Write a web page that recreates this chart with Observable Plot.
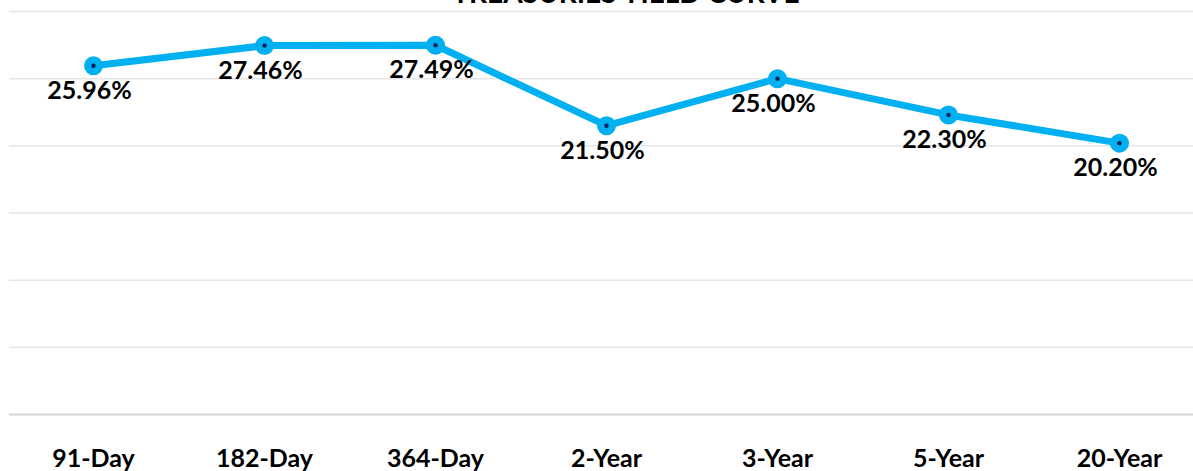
<!DOCTYPE html>
<html>
<head>
<meta charset="utf-8">
<script src="https://cdn.jsdelivr.net/npm/d3@7"></script>
<script src="https://cdn.jsdelivr.net/npm/@observablehq/plot@0.6"></script>
<style>
  html, body { margin: 0; padding: 0; background: #fff; overflow: hidden; }
  #wrap { position: relative; width: 1193px; height: 471px; overflow: hidden; }
  #title { position: absolute; top: -22px; left: 376px; width: 500px; text-align: center;
           font: 700 28px/28px Lato, sans-serif; color: #000; white-space: nowrap; }
  svg { font-family: Lato, sans-serif; }
</style>
</head>
<body>
<div id="wrap">
  <div id="title">TREASURIES YIELD CURVE</div>
  <div id="chart"></div>
</div>
<script>
const tenors = ["91-Day", "182-Day", "364-Day", "2-Year", "3-Year", "5-Year", "20-Year"];
const yields = [25.96, 27.46, 27.49, 21.50, 25.00, 22.30, 20.20];
const yTicks = [0, 5, 10, 15, 20, 25, 30];

const data = tenors.map((t, i) => ({tenor: t, value: yields[i], label: yields[i].toFixed(2) + "%"}));

const chart = Plot.plot({
  width: 1193,
  height: 471,
  marginTop: 11,
  marginBottom: 57,
  marginLeft: 9,
  marginRight: 0,
  style: {background: "#fff", fontFamily: "Lato, sans-serif"},
  x: {type: "point", domain: tenors, range: [93, 1119], padding: 0},
  y: {domain: [0, 30], axis: null},
  marks: [
    Plot.gridY(yTicks.filter(d => d > 0), {stroke: "#e6e6e6", strokeOpacity: 1, strokeWidth: 1.5}),
    Plot.ruleY([0], {stroke: "#d4d4d4", strokeWidth: 2}),
    Plot.line(data, {x: "tenor", y: "value", stroke: "#00b0f0", strokeWidth: 7, curve: "linear"}),
    Plot.dot(data, {x: "tenor", y: "value", r: 9.5, fill: "#00b0f0", stroke: "none"}),
    Plot.dot(data, {x: "tenor", y: "value", r: 2.2, fill: "#0a1f5c", stroke: "none"}),
    Plot.text(data, {x: "tenor", y: "value", text: "label", dx: -4, dy: 25, fontSize: 25, fontWeight: 700, fill: "#000", lineAnchor: "middle"}),
    Plot.axisX({tickSize: 0, tickPadding: 35, fontSize: 25, fontWeight: 700, color: "#000", label: null})
  ]
});
document.getElementById("chart").appendChild(chart);
</script>
</body>
</html>
